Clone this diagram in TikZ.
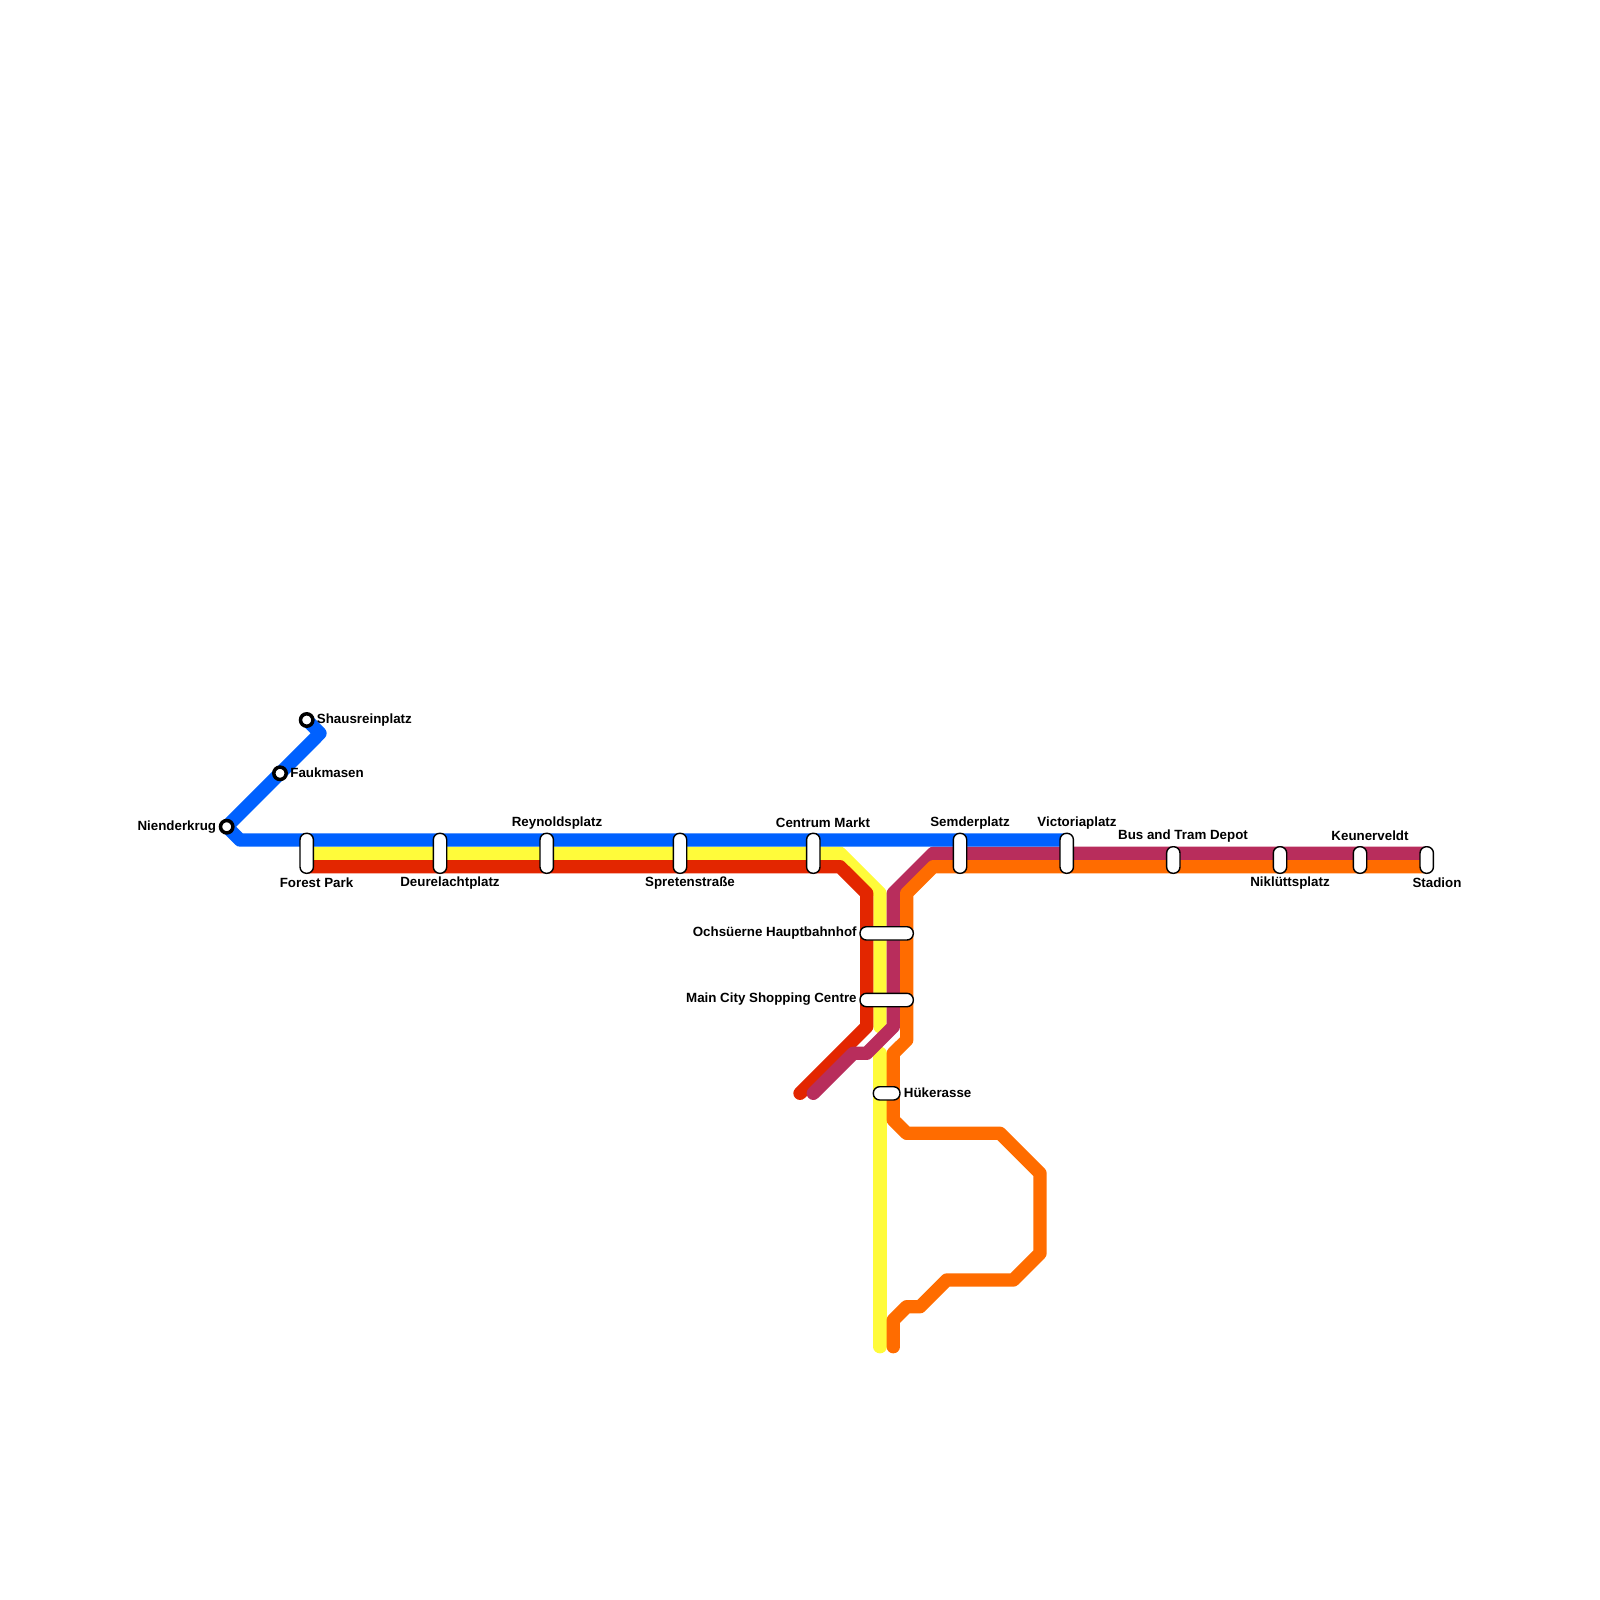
\documentclass[tikz,border=0pt]{standalone}
\usepackage{fontspec}
\setmainfont{Liberation Sans}
\definecolor{lblue}{HTML}{0061FF}
\definecolor{lyellow}{HTML}{FFFB3A}
\definecolor{lred}{HTML}{E32600}
\definecolor{lmag}{HTML}{B82D5C}
\definecolor{lorange}{HTML}{FF6C00}
\tikzset{
 route/.style={line width=6.67pt,line join=round,line cap=round},
 stopbox/.style={draw=black,fill=white,line width=0.7pt,rounded corners=3.2pt},
 lbl/.style={inner sep=0pt,font=\fontsize{6.67}{8}\selectfont\bfseries,text=black},
 ring/.style={circle,draw=black,fill=white,line width=1.75pt,minimum size=6.2pt,inner sep=0pt},
}
\begin{document}
\begin{tikzpicture}[x=0.5pt,y=-0.5pt]
\useasboundingbox (0,0) rectangle (1600,1600);
% route way points
\coordinate (b0) at (306.7,720); \coordinate (b1) at (320,733.3); \coordinate (b2) at (226.7,826.7); \coordinate (b3) at (240,840); \coordinate (b4) at (1066.7,840);
\coordinate (y0) at (306.7,853.3); \coordinate (y1) at (840,853.3); \coordinate (y2) at (880,893.3); \coordinate (y3) at (880,1026.7); \coordinate (y4) at (880,1053.3); \coordinate (y5) at (880,1346.7);
\coordinate (r0) at (306.7,866.7); \coordinate (r1) at (840,866.7); \coordinate (r2) at (866.7,893.3); \coordinate (r3) at (866.7,1026.7); \coordinate (r4) at (800,1093.3);
\coordinate (m0) at (1426.7,853.3); \coordinate (m1) at (933.3,853.3); \coordinate (m2) at (893.3,893.3); \coordinate (m3) at (893.3,1026.7); \coordinate (m4) at (866.7,1053.3); \coordinate (m5) at (853.3,1053.3); \coordinate (m6) at (813.3,1093.3);
\coordinate (o0) at (1426.7,866.7); \coordinate (o1) at (933.3,866.7); \coordinate (o2) at (906.7,893.3); \coordinate (o3) at (906.7,1040); \coordinate (o4) at (893.3,1053.3); \coordinate (o5) at (893.3,1120); \coordinate (o6) at (906.7,1133.3); \coordinate (o7) at (1000,1133.3); \coordinate (o8) at (1040,1173.3); \coordinate (o9) at (1040,1253.3); \coordinate (o10) at (1013.3,1280); \coordinate (o11) at (946.7,1280); \coordinate (o12) at (920,1306.7); \coordinate (o13) at (906.7,1306.7); \coordinate (o14) at (893.3,1320); \coordinate (o15) at (893.3,1346.7);
% routes
\draw[route,lyellow] (y0)--(y1)--(y2)--(y3);
\draw[route,lyellow] (y4)--(y5);
\draw[route,lred] (r0)--(r1)--(r2)--(r3)--(r4);
\draw[route,lmag] (m0)--(m1)--(m2)--(m3)--(m4)--(m5)--(m6);
\draw[route,lorange] (o0)--(o1)--(o2)--(o3)--(o4)--(o5)--(o6)--(o7)--(o8)--(o9)--(o10)--(o11)--(o12)--(o13)--(o14)--(o15);
\draw[route,lblue] (b0)--(b1)--(b2)--(b3)--(b4);
% stations: vertical capsules
\foreach \n/\x/\ya/\yb in {fp/306.7/833.3/873.3,dp/440/833.3/873.3,rp/546.7/833.3/873.3,sp/680/833.3/873.3,cm/813.3/833.3/873.3,se/960/833.3/873.3,vp/1066.7/833.3/873.3,bt/1173.3/846.7/873.3,ni/1280/846.7/873.3,ke/1360/846.7/873.3,st/1426.7/846.7/873.3}{
 \path[stopbox] (\x-6.7,\ya) rectangle (\x+6.7,\yb);
}
\path[stopbox] (860,926.7) rectangle (913.3,940);
\path[stopbox] (860,993.3) rectangle (913.3,1006.7);
\path[stopbox] (873.3,1086.7) rectangle (900,1100);
% ring stations
\node[ring] (s1) at (b0) {};
\node[ring] (s2) at (280,773.3) {};
\node[ring] (s3) at (b2) {};
% labels
\node[lbl,anchor=west] at (316.5,720) {Shausreinplatz};
\node[lbl,anchor=west] at (290,772.7) {Faukmasen};
\node[lbl,anchor=east] at (216.5,826.7) {Nienderkrug};
\node[lbl] at (316.5,882.5) {Forest Park};
\node[lbl] at (450,883) {Deurelachtplatz};
\node[lbl] at (557,823) {Reynoldsplatz};
\node[lbl] at (690,883) {Spretenstraße};
\node[lbl] at (823,823) {Centrum Markt};
\node[lbl] at (970,823) {Semderplatz};
\node[lbl] at (1077,823) {Victoriaplatz};
\node[lbl] at (1183,836) {Bus and Tram Depot};
\node[lbl] at (1290,883) {Niklüttsplatz};
\node[lbl] at (1370,836) {Keunerveldt};
\node[lbl] at (1437,883) {Stadion};
\node[lbl,anchor=east] at (857,933) {Ochsüerne Hauptbahnhof};
\node[lbl,anchor=east] at (857,999.5) {Main City Shopping Centre};
\node[lbl,anchor=west] at (903.5,1093) {Hükerasse};
\end{tikzpicture}
\end{document}
